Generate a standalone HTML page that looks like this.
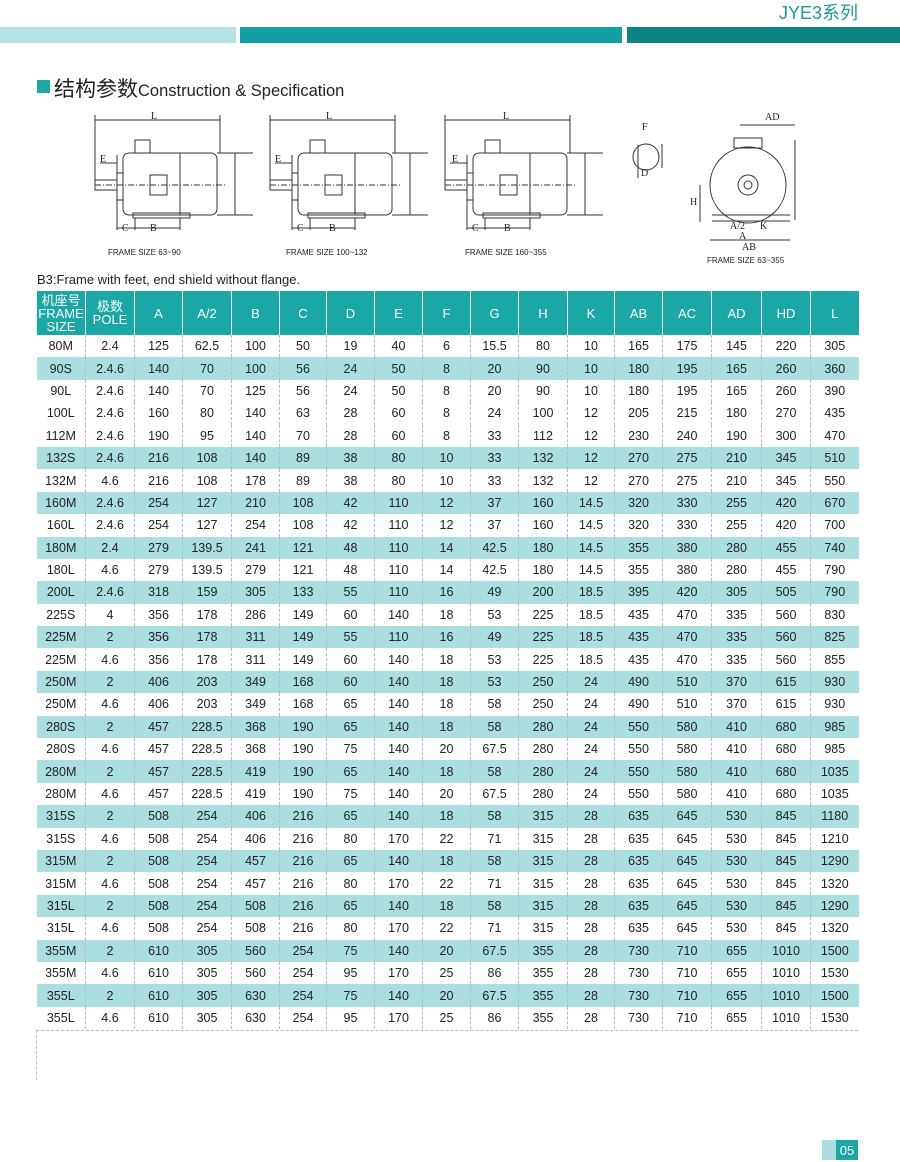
<!DOCTYPE html>
<html><head><meta charset="utf-8"><style>
body{margin:0;background:#fff;width:900px;height:1161px;position:relative;overflow:hidden;font-family:"Liberation Sans","Noto Sans CJK SC",sans-serif;}
.a{position:absolute}
table{position:absolute;left:36px;top:291px;border-collapse:collapse;table-layout:fixed;width:822px}
td{text-align:center;font-size:12.5px;color:#222;height:22.4px;padding:0;border-left:1px dashed #bbb;line-height:14px}
td:first-child{border-left:none}
tr.h td{background:#1aa7a6;color:#fff;height:44px;border-left:1px solid #e8f6f6;font-size:13px;line-height:13px}
tr.s td{background:#abdfdf}
</style></head><body>
<div class="a" style="left:779px;top:-1px;font-size:18px;color:#1a9a9a">JYE3系列</div>
<div class="a" style="left:0;top:27px;width:236px;height:16px;background:#b5e2e2"></div>
<div class="a" style="left:240px;top:27px;width:382px;height:16px;background:#13a0a2"></div>
<div class="a" style="left:627px;top:27px;width:273px;height:16px;background:#0d8585"></div>
<div class="a" style="left:37px;top:80px;width:13px;height:13px;background:#1aa7a6"></div>
<div class="a" style="left:54px;top:73px;font-size:21px;color:#222;white-space:nowrap">结构参数<span style="font-size:16.5px">Construction &amp; Specification</span></div>
<svg class="a" style="left:0;top:0" width="900" height="270" viewBox="0 0 900 270">
<defs><g id="m" fill="none" stroke="#333" stroke-width="1">
<line x1="0" y1="15" x2="125" y2="15"/><line x1="0" y1="10" x2="0" y2="80"/><line x1="125" y1="10" x2="125" y2="48"/>
<rect x="28" y="48" width="94" height="62" rx="6"/><rect x="40" y="35" width="15" height="13"/>
<rect x="22" y="68" width="6" height="27"/><rect x="0" y="75" width="22" height="10"/>
<rect x="38" y="108" width="57" height="5"/><rect x="55" y="70" width="17" height="20"/>
<line x1="85" y1="48" x2="85" y2="110"/><line x1="0" y1="80" x2="130" y2="80" stroke-dasharray="6,2,1,2"/>
<line x1="122" y1="48" x2="158" y2="48"/><line x1="122" y1="110" x2="158" y2="110"/><line x1="140" y1="48" x2="140" y2="110"/>
<line x1="5" y1="58" x2="22" y2="58"/><line x1="22" y1="50" x2="22" y2="125"/><line x1="40" y1="113" x2="40" y2="125"/><line x1="85" y1="113" x2="85" y2="125"/>
<line x1="22" y1="123" x2="85" y2="123"/></g></defs>
<use href="#m" x="95" y="105"/><use href="#m" x="270" y="105"/><use href="#m" x="445" y="105"/>
<g fill="none" stroke="#333"><circle cx="748" cy="185" r="38"/><circle cx="748" cy="185" r="10"/><circle cx="748" cy="185" r="4"/>
<rect x="734" y="138" width="28" height="10"/><line x1="712" y1="215" x2="790" y2="215"/><line x1="712" y1="221" x2="790" y2="221"/>
<line x1="740" y1="125" x2="795" y2="125"/><line x1="795" y1="140" x2="795" y2="220"/><line x1="710" y1="240" x2="790" y2="240"/><line x1="700" y1="185" x2="700" y2="222"/>
<circle cx="646" cy="157" r="13"/><line x1="638" y1="145" x2="638" y2="178"/><line x1="662" y1="144" x2="662" y2="168"/></g>
<g font-family="Liberation Serif,serif" font-size="10" fill="#222"><text x="151" y="119">L</text><text x="326" y="119">L</text><text x="503" y="119">L</text>
<text x="100" y="162">E</text><text x="275" y="162">E</text><text x="452" y="162">E</text><text x="122" y="231">C</text><text x="150" y="231">B</text><text x="297" y="231">C</text><text x="329" y="231">B</text><text x="472" y="231">C</text><text x="504" y="231">B</text>
<text x="765" y="120">AD</text><text x="739" y="239">A</text><text x="742" y="250">AB</text><text x="730" y="229">A/2</text><text x="760" y="229">K</text><text x="642" y="130">F</text><text x="641" y="176">D</text><text x="690" y="205">H</text></g>
<g font-size="8" fill="#222"><text x="108" y="255">FRAME SIZE 63~90</text><text x="286" y="255">FRAME SIZE 100~132</text><text x="465" y="255">FRAME SIZE 160~355</text><text x="707" y="263">FRAME SIZE 63~355</text></g>
</svg>
<div class="a" style="left:37px;top:272px;font-size:13px;color:#222">B3:Frame with feet, end shield without flange.</div>
<table>
<colgroup><col style="width:49px"><col style="width:49px"><col style="width:48px"><col style="width:49px"><col style="width:48px"><col style="width:47px"><col style="width:48px"><col style="width:48px"><col style="width:48px"><col style="width:48px"><col style="width:49px"><col style="width:47px"><col style="width:48px"><col style="width:49px"><col style="width:50px"><col style="width:49px"><col style="width:48px"></colgroup>
<tr class="h"><td>机座号<br>FRAME<br>SIZE</td><td>极数<br>POLE</td><td>A</td><td>A/2</td><td>B</td><td>C</td><td>D</td><td>E</td><td>F</td><td>G</td><td>H</td><td>K</td><td>AB</td><td>AC</td><td>AD</td><td>HD</td><td>L</td></tr>
<tr><td>80M</td><td>2.4</td><td>125</td><td>62.5</td><td>100</td><td>50</td><td>19</td><td>40</td><td>6</td><td>15.5</td><td>80</td><td>10</td><td>165</td><td>175</td><td>145</td><td>220</td><td>305</td></tr>
<tr class="s"><td>90S</td><td>2.4.6</td><td>140</td><td>70</td><td>100</td><td>56</td><td>24</td><td>50</td><td>8</td><td>20</td><td>90</td><td>10</td><td>180</td><td>195</td><td>165</td><td>260</td><td>360</td></tr>
<tr><td>90L</td><td>2.4.6</td><td>140</td><td>70</td><td>125</td><td>56</td><td>24</td><td>50</td><td>8</td><td>20</td><td>90</td><td>10</td><td>180</td><td>195</td><td>165</td><td>260</td><td>390</td></tr>
<tr><td>100L</td><td>2.4.6</td><td>160</td><td>80</td><td>140</td><td>63</td><td>28</td><td>60</td><td>8</td><td>24</td><td>100</td><td>12</td><td>205</td><td>215</td><td>180</td><td>270</td><td>435</td></tr>
<tr><td>112M</td><td>2.4.6</td><td>190</td><td>95</td><td>140</td><td>70</td><td>28</td><td>60</td><td>8</td><td>33</td><td>112</td><td>12</td><td>230</td><td>240</td><td>190</td><td>300</td><td>470</td></tr>
<tr class="s"><td>132S</td><td>2.4.6</td><td>216</td><td>108</td><td>140</td><td>89</td><td>38</td><td>80</td><td>10</td><td>33</td><td>132</td><td>12</td><td>270</td><td>275</td><td>210</td><td>345</td><td>510</td></tr>
<tr><td>132M</td><td>4.6</td><td>216</td><td>108</td><td>178</td><td>89</td><td>38</td><td>80</td><td>10</td><td>33</td><td>132</td><td>12</td><td>270</td><td>275</td><td>210</td><td>345</td><td>550</td></tr>
<tr class="s"><td>160M</td><td>2.4.6</td><td>254</td><td>127</td><td>210</td><td>108</td><td>42</td><td>110</td><td>12</td><td>37</td><td>160</td><td>14.5</td><td>320</td><td>330</td><td>255</td><td>420</td><td>670</td></tr>
<tr><td>160L</td><td>2.4.6</td><td>254</td><td>127</td><td>254</td><td>108</td><td>42</td><td>110</td><td>12</td><td>37</td><td>160</td><td>14.5</td><td>320</td><td>330</td><td>255</td><td>420</td><td>700</td></tr>
<tr class="s"><td>180M</td><td>2.4</td><td>279</td><td>139.5</td><td>241</td><td>121</td><td>48</td><td>110</td><td>14</td><td>42.5</td><td>180</td><td>14.5</td><td>355</td><td>380</td><td>280</td><td>455</td><td>740</td></tr>
<tr><td>180L</td><td>4.6</td><td>279</td><td>139.5</td><td>279</td><td>121</td><td>48</td><td>110</td><td>14</td><td>42.5</td><td>180</td><td>14.5</td><td>355</td><td>380</td><td>280</td><td>455</td><td>790</td></tr>
<tr class="s"><td>200L</td><td>2.4.6</td><td>318</td><td>159</td><td>305</td><td>133</td><td>55</td><td>110</td><td>16</td><td>49</td><td>200</td><td>18.5</td><td>395</td><td>420</td><td>305</td><td>505</td><td>790</td></tr>
<tr><td>225S</td><td>4</td><td>356</td><td>178</td><td>286</td><td>149</td><td>60</td><td>140</td><td>18</td><td>53</td><td>225</td><td>18.5</td><td>435</td><td>470</td><td>335</td><td>560</td><td>830</td></tr>
<tr class="s"><td>225M</td><td>2</td><td>356</td><td>178</td><td>311</td><td>149</td><td>55</td><td>110</td><td>16</td><td>49</td><td>225</td><td>18.5</td><td>435</td><td>470</td><td>335</td><td>560</td><td>825</td></tr>
<tr><td>225M</td><td>4.6</td><td>356</td><td>178</td><td>311</td><td>149</td><td>60</td><td>140</td><td>18</td><td>53</td><td>225</td><td>18.5</td><td>435</td><td>470</td><td>335</td><td>560</td><td>855</td></tr>
<tr class="s"><td>250M</td><td>2</td><td>406</td><td>203</td><td>349</td><td>168</td><td>60</td><td>140</td><td>18</td><td>53</td><td>250</td><td>24</td><td>490</td><td>510</td><td>370</td><td>615</td><td>930</td></tr>
<tr><td>250M</td><td>4.6</td><td>406</td><td>203</td><td>349</td><td>168</td><td>65</td><td>140</td><td>18</td><td>58</td><td>250</td><td>24</td><td>490</td><td>510</td><td>370</td><td>615</td><td>930</td></tr>
<tr class="s"><td>280S</td><td>2</td><td>457</td><td>228.5</td><td>368</td><td>190</td><td>65</td><td>140</td><td>18</td><td>58</td><td>280</td><td>24</td><td>550</td><td>580</td><td>410</td><td>680</td><td>985</td></tr>
<tr><td>280S</td><td>4.6</td><td>457</td><td>228.5</td><td>368</td><td>190</td><td>75</td><td>140</td><td>20</td><td>67.5</td><td>280</td><td>24</td><td>550</td><td>580</td><td>410</td><td>680</td><td>985</td></tr>
<tr class="s"><td>280M</td><td>2</td><td>457</td><td>228.5</td><td>419</td><td>190</td><td>65</td><td>140</td><td>18</td><td>58</td><td>280</td><td>24</td><td>550</td><td>580</td><td>410</td><td>680</td><td>1035</td></tr>
<tr><td>280M</td><td>4.6</td><td>457</td><td>228.5</td><td>419</td><td>190</td><td>75</td><td>140</td><td>20</td><td>67.5</td><td>280</td><td>24</td><td>550</td><td>580</td><td>410</td><td>680</td><td>1035</td></tr>
<tr class="s"><td>315S</td><td>2</td><td>508</td><td>254</td><td>406</td><td>216</td><td>65</td><td>140</td><td>18</td><td>58</td><td>315</td><td>28</td><td>635</td><td>645</td><td>530</td><td>845</td><td>1180</td></tr>
<tr><td>315S</td><td>4.6</td><td>508</td><td>254</td><td>406</td><td>216</td><td>80</td><td>170</td><td>22</td><td>71</td><td>315</td><td>28</td><td>635</td><td>645</td><td>530</td><td>845</td><td>1210</td></tr>
<tr class="s"><td>315M</td><td>2</td><td>508</td><td>254</td><td>457</td><td>216</td><td>65</td><td>140</td><td>18</td><td>58</td><td>315</td><td>28</td><td>635</td><td>645</td><td>530</td><td>845</td><td>1290</td></tr>
<tr><td>315M</td><td>4.6</td><td>508</td><td>254</td><td>457</td><td>216</td><td>80</td><td>170</td><td>22</td><td>71</td><td>315</td><td>28</td><td>635</td><td>645</td><td>530</td><td>845</td><td>1320</td></tr>
<tr class="s"><td>315L</td><td>2</td><td>508</td><td>254</td><td>508</td><td>216</td><td>65</td><td>140</td><td>18</td><td>58</td><td>315</td><td>28</td><td>635</td><td>645</td><td>530</td><td>845</td><td>1290</td></tr>
<tr><td>315L</td><td>4.6</td><td>508</td><td>254</td><td>508</td><td>216</td><td>80</td><td>170</td><td>22</td><td>71</td><td>315</td><td>28</td><td>635</td><td>645</td><td>530</td><td>845</td><td>1320</td></tr>
<tr class="s"><td>355M</td><td>2</td><td>610</td><td>305</td><td>560</td><td>254</td><td>75</td><td>140</td><td>20</td><td>67.5</td><td>355</td><td>28</td><td>730</td><td>710</td><td>655</td><td>1010</td><td>1500</td></tr>
<tr><td>355M</td><td>4.6</td><td>610</td><td>305</td><td>560</td><td>254</td><td>95</td><td>170</td><td>25</td><td>86</td><td>355</td><td>28</td><td>730</td><td>710</td><td>655</td><td>1010</td><td>1530</td></tr>
<tr class="s"><td>355L</td><td>2</td><td>610</td><td>305</td><td>630</td><td>254</td><td>75</td><td>140</td><td>20</td><td>67.5</td><td>355</td><td>28</td><td>730</td><td>710</td><td>655</td><td>1010</td><td>1500</td></tr>
<tr><td>355L</td><td>4.6</td><td>610</td><td>305</td><td>630</td><td>254</td><td>95</td><td>170</td><td>25</td><td>86</td><td>355</td><td>28</td><td>730</td><td>710</td><td>655</td><td>1010</td><td>1530</td></tr>
</table>
<div class="a" style="left:36px;top:1030px;width:822px;border-top:1px dashed #bbb"></div>
<div class="a" style="left:36px;top:1030px;height:50px;border-left:1px dashed #bbb"></div>
<div class="a" style="left:822px;top:1140px;width:14px;height:20px;background:#abdfdf"></div>
<div class="a" style="left:836px;top:1140px;width:22px;height:20px;background:#1aa7a6;color:#fff;font-size:13px;text-align:center;line-height:22px">05</div>
</body></html>
